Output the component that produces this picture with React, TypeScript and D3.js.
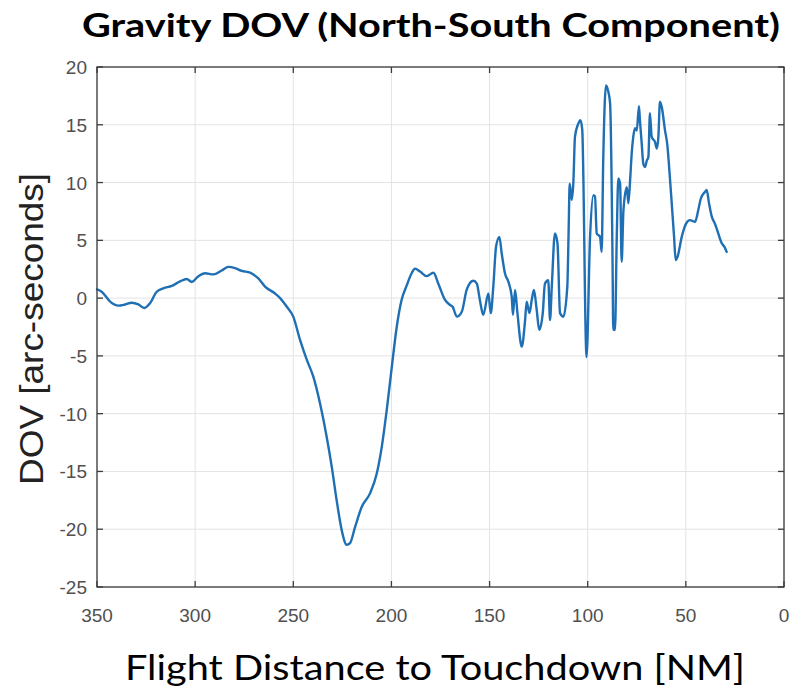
import React from "react";
import * as d3 from "d3";

const distanceNM = [
  350.0, 347.6, 343.3, 339.1, 335.7, 332.3, 328.9, 325.9, 323.0, 319.6, 316.2, 311.9, 307.7, 304.3, 301.7,
  298.3, 294.9, 290.7, 286.4, 283.1, 279.7, 276.2, 272.0, 267.8, 264.4, 259.3, 256.7, 253.3, 250.0, 246.6,
  243.1, 239.8, 236.4, 233.0, 230.4, 227.9, 225.3, 222.8, 221.1, 218.5, 215.1, 210.9, 207.5, 204.9, 202.4,
  199.8, 197.3, 194.8, 192.2, 189.7, 188.0, 185.4, 182.0, 178.6, 176.1, 172.7, 170.1, 168.8, 166.7, 164.2,
  161.6, 158.3, 156.5, 154.9, 153.2, 150.6, 149.4, 148.1, 146.7, 145.0, 143.8, 142.1, 140.4, 138.7, 138.1,
  137.0, 135.8, 133.6, 131.9, 131.1, 129.7, 128.5, 127.4, 126.0, 124.7, 122.9, 121.8, 120.1, 119.2, 118.3,
  116.7, 115.4, 114.1, 112.4, 110.4, 109.7, 109.2, 108.1, 107.3, 106.5, 104.8, 103.7, 102.8, 100.6, 98.8,
  97.1, 96.3, 95.4, 93.7, 92.9, 92.1, 90.7, 89.5, 88.6, 87.3, 87.0, 86.1, 85.2, 84.4, 83.5,
  82.7, 81.8, 80.1, 79.3, 78.4, 77.6, 76.8, 75.9, 75.0, 73.9, 73.4, 72.5, 71.7, 70.8, 69.9,
  69.1, 68.3, 67.4, 65.7, 64.8, 64.0, 63.2, 62.3, 60.6, 59.4, 58.4, 57.2, 56.0, 55.2, 54.2,
  52.1, 49.9, 47.9, 45.3, 43.7, 42.4, 40.2, 39.4, 38.2, 36.8, 35.2, 33.5, 31.7, 30.4, 29.2,
];

const dovArcSec = [
  0.75, 0.55, -0.3, -0.65, -0.55, -0.4, -0.55, -0.85, -0.45, 0.55, 0.85, 1.05, 1.45, 1.65, 1.4,
  1.9, 2.15, 2.05, 2.4, 2.7, 2.6, 2.35, 2.2, 1.7, 1.0, 0.4, 0.0, -0.75, -1.6, -3.6,
  -5.35, -6.8, -9.1, -12.0, -14.6, -17.5, -20.1, -21.35, -21.2, -19.8, -18.05, -16.9, -15.2, -12.85, -9.7,
  -5.95, -2.5, -0.15, 1.1, 2.15, 2.55, 2.3, 1.9, 2.2, 1.25, -0.15, -0.6, -0.75, -1.6, -1.2,
  0.75, 1.5, 1.25, -0.2, -1.45, 0.4, -1.3, 1.0, 4.45, 5.3, 3.85, 2.1, 1.4, 0.1, -1.45,
  0.7, -1.3, -4.2, -1.9, -0.3, -1.3, -0.15, 0.7, -1.0, -2.75, -1.3, 1.25, 1.55, -1.9, 1.0,
  5.6, 4.75, -1.3, -1.6, 1.0, 6.0, 9.9, 8.5, 10.05, 13.95, 15.1, 15.4, 14.6, -5.1, 5.3,
  8.9, 8.8, 5.6, 5.3, 4.0, 11.9, 18.4, 17.85, 16.85, 2.4, -2.75, -2.75, 5.3, 10.35, 9.9,
  3.15, 7.6, 9.6, 8.2, 10.2, 12.5, 13.95, 14.7, 14.5, 16.6, 15.4, 13.4, 11.65, 11.35, 11.9,
  12.2, 16.0, 13.95, 13.5, 12.95, 13.95, 17.0, 16.55, 14.5, 13.2, 11.05, 8.2, 5.3, 3.3, 3.6,
  5.3, 6.45, 6.75, 6.6, 7.6, 8.6, 9.2, 9.35, 8.2, 7.05, 6.45, 5.6, 4.75, 4.45, 4.0,
];

const xTicks = [350, 300, 250, 200, 150, 100, 50, 0];
const yTicks = [20, 15, 10, 5, 0, -5, -10, -15, -20, -25];

const titleText = "Gravity DOV (North-South Component)";
const xLabelText = "Flight Distance to Touchdown [NM]";
const yLabelText = "DOV [arc-seconds]";

export default function App() {
  const W = 792;
  const H = 696;
  const left = 97;
  const right = 784;
  const top = 67;
  const bottom = 587;

  const x = d3.scaleLinear().domain([350, 0]).range([left, right]);
  const y = d3.scaleLinear().domain([-25, 20]).range([bottom, top]);

  const pts = distanceNM.map((d, i) => [d, dovArcSec[i]] as [number, number]);
  const line = d3
    .line<[number, number]>()
    .x((d) => x(d[0]))
    .y((d) => y(d[1]))
    .curve(d3.curveMonotoneX);

  const axisColor = "#3c3c3c";
  const gridColor = "#e3e3e3";
  const tickLen = 6;

  return (
    <div style={{ position: "absolute", left: 0, top: 0 }}>
      <svg width={W} height={H} style={{ display: "block", background: "#ffffff" }}>
        <rect x={0} y={0} width={W} height={H} fill="#ffffff" />
        {/* grid */}
        {xTicks.map((t) => (
          <line key={"gx" + t} x1={x(t)} x2={x(t)} y1={top} y2={bottom} stroke={gridColor} strokeWidth={1} />
        ))}
        {yTicks.map((t) => (
          <line key={"gy" + t} x1={left} x2={right} y1={y(t)} y2={y(t)} stroke={gridColor} strokeWidth={1} />
        ))}
        {/* data line */}
        <path d={line(pts) || ""} fill="none" stroke="#1f6fb5" strokeWidth={2.4} strokeLinejoin="round" strokeLinecap="round" />
        {/* box */}
        <rect x={left} y={top} width={right - left} height={bottom - top} fill="none" stroke={axisColor} strokeWidth={1.3} />
        {/* ticks */}
        {xTicks.map((t) => (
          <g key={"tx" + t}>
            <line x1={x(t)} x2={x(t)} y1={bottom} y2={bottom - tickLen} stroke={axisColor} strokeWidth={1.3} />
            <line x1={x(t)} x2={x(t)} y1={top} y2={top + tickLen} stroke={axisColor} strokeWidth={1.3} />
            <text
              x={x(t)}
              y={622}
              textAnchor="middle"
              fontFamily="Liberation Sans, Arial, sans-serif"
              fontSize={19}
              fill="#505050"
            >
              {t}
            </text>
          </g>
        ))}
        {yTicks.map((t) => (
          <g key={"ty" + t}>
            <line x1={left} x2={left + tickLen} y1={y(t)} y2={y(t)} stroke={axisColor} strokeWidth={1.3} />
            <line x1={right} x2={right - tickLen} y1={y(t)} y2={y(t)} stroke={axisColor} strokeWidth={1.3} />
            <text
              x={87}
              y={y(t) + 7}
              textAnchor="end"
              fontFamily="Liberation Sans, Arial, sans-serif"
              fontSize={19}
              fill="#505050"
            >
              {t}
            </text>
          </g>
        ))}
        {/* title */}
        <text
          x={82}
          y={37}
          fontFamily="Lato, 'Open Sans', sans-serif"
          fontWeight="bold"
          fontSize={33}
          fill="#000000"
          textLength={698}
          lengthAdjust="spacingAndGlyphs"
        >
          {titleText}
        </text>
        {/* x label */}
        <text
          x={125}
          y={680}
          fontFamily="Lato, 'Open Sans', sans-serif"
          fontSize={34}
          fill="#000000"
          textLength={620}
          lengthAdjust="spacingAndGlyphs"
        >
          {xLabelText}
        </text>
        {/* y label */}
        <text
          transform={`translate(43, 485) rotate(-90)`}
          x={0}
          y={0}
          fontFamily="Liberation Sans, Arial, sans-serif"
          fontSize={33}
          fill="#222222"
          textLength={312}
          lengthAdjust="spacingAndGlyphs"
        >
          {yLabelText}
        </text>
      </svg>
    </div>
  );
}
